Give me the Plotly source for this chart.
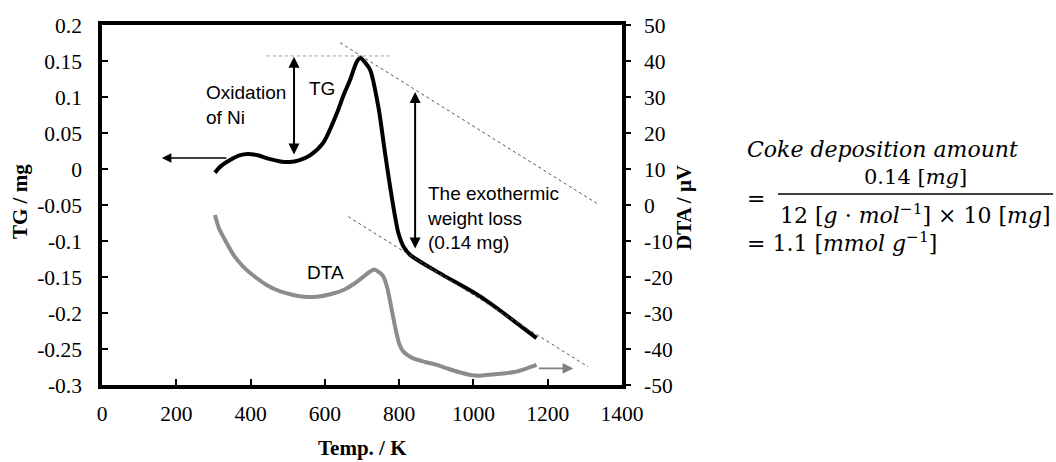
import plotly.graph_objects as go

# Thermogravimetric (TG) trace, mg vs temperature in K
tg_temp = [304, 320, 345, 370, 393, 420, 450, 480, 505, 530, 560, 595, 632, 650, 668,
           685, 695, 708, 722, 744, 762, 780, 798, 812, 829, 910, 1018, 1170]
tg_mg = [-0.005, 0.004, 0.0125, 0.019, 0.021, 0.019, 0.014, 0.0105, 0.0097, 0.012, 0.019,
         0.036, 0.077, 0.102, 0.124, 0.148, 0.154, 0.148, 0.1375, 0.0865, 0.022, -0.0385,
         -0.089, -0.108, -0.119, -0.145, -0.177, -0.235]

# Differential thermal analysis (DTA) trace, µV vs temperature in K
dta_temp = [304, 315, 336, 355, 380, 410, 443, 480, 515, 545, 578, 615, 650, 680, 704,
            720, 733, 745, 757, 768, 778, 789, 800, 812, 838, 870, 901, 930, 960, 991,
            1020, 1050, 1080, 1110, 1140, 1170]
dta_uv = [-2.8, -6.5, -10.6, -14.0, -17.1, -19.8, -22.2, -24.0, -25.0, -25.5, -25.5, -24.8,
          -23.6, -21.8, -19.9, -18.6, -17.9, -18.6, -19.8, -23.0, -28.0, -33.8, -38.5,
          -40.8, -42.6, -43.6, -44.4, -45.4, -46.4, -47.2, -47.4, -47.1, -46.8, -46.4,
          -45.5, -44.4]

# Axis ticks
x_ticks = [0, 200, 400, 600, 800, 1000, 1200, 1400]
tg_ticks = [0.2, 0.15, 0.1, 0.05, 0, -0.05, -0.1, -0.15, -0.2, -0.25, -0.3]
tg_tick_text = ["0.2", "0.15", "0.1", "0.05", "0", "-0.05", "-0.1", "-0.15", "-0.2", "-0.25", "-0.3"]
dta_ticks = [50, 40, 30, 20, 10, 0, -10, -20, -30, -40, -50]
dta_tick_text = [str(v) for v in dta_ticks]

# Reference quantities for the annotations
peak_tg = 0.157
oxid_temp, oxid_low, oxid_high = 517, 0.018, 0.156
loss_temp, loss_top, loss_bottom = 843, 0.107, -0.1125
upper_tangent = [(641, 0.1754), (1332, -0.0477)]
lower_tangent = [(663, -0.0662), (1308, -0.2745)]

SERIF = "Liberation Serif"
SANS = "Liberation Sans"
MATH = "DejaVu Serif"

fig = go.Figure()
fig.add_trace(go.Scatter(x=tg_temp, y=tg_mg, mode="lines", name="TG",
                         line=dict(color="black", width=4, shape="spline", smoothing=0.8),
                         yaxis="y"))
fig.add_trace(go.Scatter(x=dta_temp, y=dta_uv, mode="lines", name="DTA",
                         line=dict(color="#8c8c8c", width=4, shape="spline", smoothing=0.6),
                         yaxis="y2"))

shapes = [
    dict(type="line", xref="x", yref="y", x0=444, x1=775, y0=peak_tg, y1=peak_tg,
         line=dict(color="#9a9a9a", width=1, dash="dot")),
    dict(type="line", xref="x", yref="y", x0=upper_tangent[0][0], y0=upper_tangent[0][1],
         x1=upper_tangent[1][0], y1=upper_tangent[1][1],
         line=dict(color="#555555", width=1, dash="dot")),
    dict(type="line", xref="x", yref="y", x0=lower_tangent[0][0], y0=lower_tangent[0][1],
         x1=lower_tangent[1][0], y1=lower_tangent[1][1],
         line=dict(color="#555555", width=1, dash="dot")),
    # fraction bar of the coke formula
    dict(type="line", xref="paper", yref="paper", x0=1.300, x1=1.829, y0=0.5306, y1=0.5306,
         line=dict(color="black", width=1.5)),
]

label_font = dict(family=SANS, size=19, color="black")
math_font = dict(family=MATH, size=22, color="black")
num_font = dict(family=MATH, size=21, color="black")

annotations = [
    # TG belongs to left axis
    dict(x=161, y=0.0152, ax=339, ay=0.0152, xref="x", yref="y", axref="x", ayref="y",
         text="", showarrow=True, arrowhead=2, arrowsize=1.2, arrowwidth=1.6,
         arrowcolor="black", standoff=0),
    # DTA belongs to right axis
    dict(x=1269, y=-45.4, ax=1172, ay=-45.4, xref="x", yref="y2", axref="x", ayref="y2",
         text="", showarrow=True, arrowhead=2, arrowsize=1.2, arrowwidth=1.8,
         arrowcolor="#7f7f7f", standoff=0),
    # oxidation of Ni double arrow
    dict(x=oxid_temp, y=oxid_high, ax=oxid_temp, ay=oxid_low, xref="x", yref="y",
         axref="x", ayref="y", text="", showarrow=True, arrowhead=2, startarrowhead=2,
         arrowside="end+start", arrowsize=1.1, startarrowsize=1.1, arrowwidth=2,
         arrowcolor="black", standoff=0, startstandoff=0),
    # exothermic weight loss double arrow
    dict(x=loss_temp, y=loss_top, ax=loss_temp, ay=loss_bottom, xref="x", yref="y",
         axref="x", ayref="y", text="", showarrow=True, arrowhead=2, startarrowhead=2,
         arrowside="end+start", arrowsize=1.1, startarrowsize=1.1, arrowwidth=2,
         arrowcolor="black", standoff=0, startstandoff=0),
    dict(x=274, y=0.089, xref="x", yref="y", text="Oxidation<br>of Ni", showarrow=False,
         xanchor="left", yanchor="middle", align="left", font=label_font),
    dict(x=592, y=0.1125, xref="x", yref="y", text="TG", showarrow=False,
         xanchor="center", yanchor="middle", font=label_font),
    dict(x=603, y=-0.1435, xref="x", yref="y", text="DTA", showarrow=False,
         xanchor="center", yanchor="middle", font=label_font),
    dict(x=870, y=-0.068, xref="x", yref="y",
         text="The exothermic<br>weight loss<br>(0.14 mg)", showarrow=False,
         xanchor="left", yanchor="middle", align="left", font=label_font),
    # axis titles
    dict(x=-0.1577, y=0.511, xref="paper", yref="paper", text="<b>TG / mg</b>",
         textangle=-90, showarrow=False, xanchor="center", yanchor="middle",
         font=dict(family=SERIF, size=21, color="black")),
    dict(x=1.119, y=0.494, xref="paper", yref="paper", text="<b>DTA / μV</b>",
         textangle=-90, showarrow=False, xanchor="center", yanchor="middle",
         font=dict(family=SERIF, size=21, color="black")),
    dict(x=0.5, y=-0.176, xref="paper", yref="paper", text="<b>Temp. / K</b>",
         showarrow=False, xanchor="center", yanchor="middle",
         font=dict(family=SERIF, size=21, color="black")),
    # coke deposition formula
    dict(x=1.2365, y=0.6528, xref="paper", yref="paper",
         text="<i>Coke deposition amount</i>", showarrow=False,
         xanchor="left", yanchor="middle", font=math_font),
    dict(x=1.2365, y=0.5167, xref="paper", yref="paper", text="=", showarrow=False,
         xanchor="left", yanchor="middle", font=math_font),
    dict(x=1.5635, y=0.578, xref="paper", yref="paper", text="0.14 [<i>mg</i>]",
         showarrow=False, xanchor="center", yanchor="middle", font=num_font),
    dict(x=1.5644, y=0.475, xref="paper", yref="paper",
         text="12 [<i>g</i> · <i>mol</i><sup>−1</sup>] × 10 [<i>mg</i>]",
         showarrow=False, xanchor="center", yanchor="middle", font=math_font),
    dict(x=1.2365, y=0.397, xref="paper", yref="paper",
         text="= 1.1 [<i>mmol g</i><sup>−1</sup>]", showarrow=False,
         xanchor="left", yanchor="middle", font=math_font),
]

tick_font = dict(family=SERIF, size=21.5, color="black")

fig.update_layout(
    width=1056, height=462,
    margin=dict(l=102, r=434, t=25, b=77),
    paper_bgcolor="white", plot_bgcolor="white",
    showlegend=False,
    xaxis=dict(range=[0, 1400], tickvals=x_ticks, ticks="inside", ticklen=6,
               tickwidth=1.5, tickcolor="black", showline=True, linewidth=3.5,
               linecolor="black", mirror=True, showgrid=False, zeroline=False,
               tickfont=tick_font, ticklabelstandoff=6),
    yaxis=dict(range=[-0.3, 0.2], tickvals=tg_ticks, ticktext=tg_tick_text,
               ticks="inside", ticklen=6, tickwidth=1.5, tickcolor="black",
               showline=True, linewidth=3.5, linecolor="black", showgrid=False,
               zeroline=False, tickfont=tick_font, ticklabelstandoff=12),
    yaxis2=dict(range=[-50, 50], tickvals=dta_ticks, ticktext=dta_tick_text,
                overlaying="y", side="right", ticks="outside", ticklen=5,
                tickwidth=1.5, tickcolor="black", showline=True, linewidth=3.5,
                linecolor="black", showgrid=False, zeroline=False,
                tickfont=tick_font, ticklabelstandoff=9),
    shapes=shapes,
    annotations=annotations,
)

fig.write_html("out.html")
